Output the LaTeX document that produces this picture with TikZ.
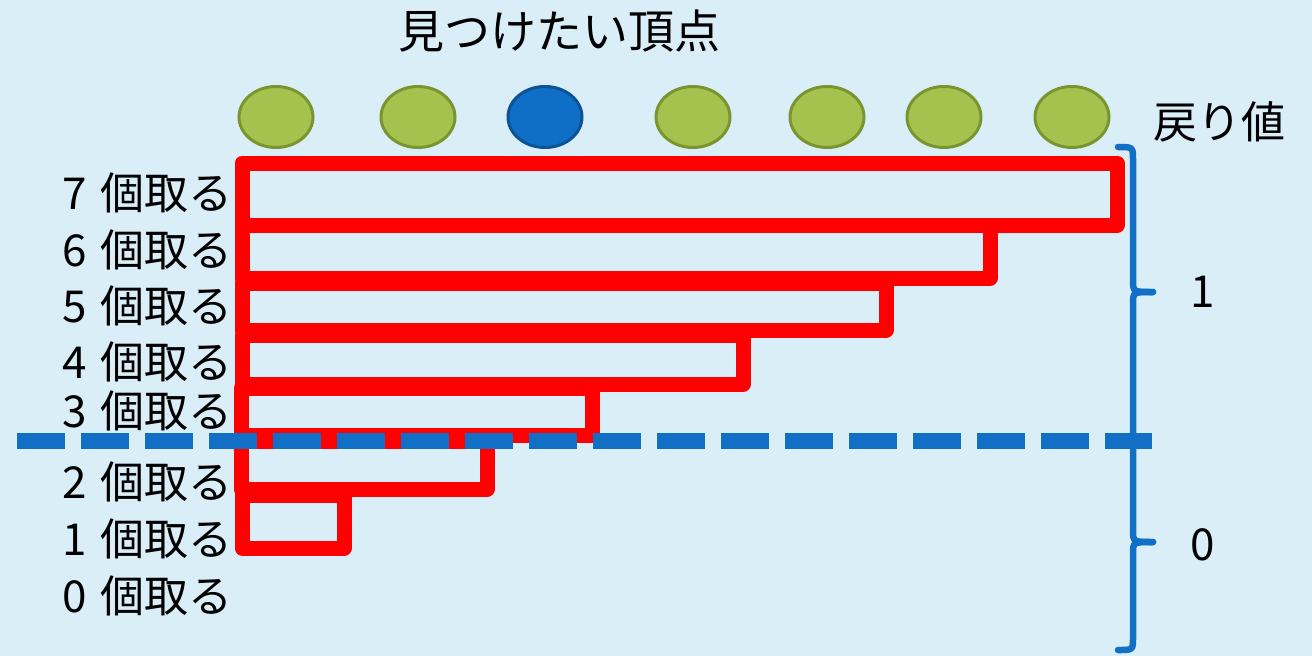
\documentclass[tikz,border=0pt]{standalone}
\usepackage{fontspec}
\usetikzlibrary{shapes.geometric}
\newfontfamily\jpfont{Noto Sans CJK JP}
\definecolor{bgblue}{HTML}{DAEEF8}
\definecolor{vgreen}{HTML}{A6C24E}
\definecolor{vgreenline}{HTML}{7A9530}
\definecolor{vblue}{HTML}{0F6FC6}
\definecolor{vblueline}{HTML}{0B5394}
\definecolor{barred}{HTML}{FF0000}
\definecolor{cutblue}{HTML}{116FC6}
\newcommand{\rowtext}[1]{#1\hspace{0.32em}個取る}
\begin{document}
\begin{tikzpicture}[x=1pt,y=-1pt,
  lbl/.style={font=\jpfont\fontsize{44}{50}\selectfont, inner sep=0pt, text=black},
  titlelbl/.style={font=\jpfont\fontsize{46}{52}\selectfont, inner sep=0pt, text=black},
  rowlbl/.style={lbl, anchor=east},
  vert/.style={ellipse, minimum width=74pt, minimum height=61pt, line width=3pt, inner sep=0pt},
  gvert/.style={vert, draw=vgreenline, fill=vgreen},
  bvert/.style={vert, draw=vblueline, fill=vblue},
  bar/.style={draw=barred, line width=15pt, line join=round},
  cut/.style={draw=cutblue, line width=16pt, dash pattern=on 48pt off 16pt},
  brace/.style={draw=cutblue, line width=6.5pt, line cap=round, line join=round}
]
\fill[bgblue] (0,0) rectangle (1312,656);
\useasboundingbox (0,0) rectangle (1312,656);

% title
\node[titlelbl] (title) at (559,31) {見つけたい頂点};

% vertices
\node[gvert] (v1) at (276,117) {};
\node[gvert] (v2) at (418,117) {};
\node[bvert] (v3) at (545,117) {};
\node[gvert] (v4) at (693,117) {};
\node[gvert] (v5) at (827,117) {};
\node[gvert] (v6) at (944,117) {};
\node[gvert] (v7) at (1072,117) {};

% return value header
\node[lbl] (ret) at (1219,122) {戻り値};

% row labels
\node[rowlbl] (l7) at (233,193) {\rowtext{7}};
\node[rowlbl] (l6) at (233,250) {\rowtext{6}};
\node[rowlbl] (l5) at (233,306) {\rowtext{5}};
\node[rowlbl] (l4) at (233,362) {\rowtext{4}};
\node[rowlbl] (l3) at (233,411) {\rowtext{3}};
\node[rowlbl] (l2) at (233,482) {\rowtext{2}};
\node[rowlbl] (l1) at (233,539) {\rowtext{1}};
\node[rowlbl] (l0) at (233,596) {\rowtext{0}};

% red bars
\draw[bar] (242,163) rectangle (1117,225);
\draw[bar] (242,225) rectangle (990,278);
\draw[bar] (242,283) rectangle (886,330);
\draw[bar] (242,335) rectangle (743,384);
\draw[bar] (241,388) rectangle (592,435);
\draw[bar] (241,441) rectangle (487,489);
\draw[bar] (242,495) rectangle (344,548);

% braces
\draw[brace] (1118,147) .. controls (1133,147) .. (1133,160) -- (1133,280)
  .. controls (1133,292) .. (1153,292);
\draw[brace] (1153,292) .. controls (1133,292) .. (1133,304) -- (1133,438);
\draw[brace] (1133,442) -- (1133,530) .. controls (1133,542) .. (1153,542);
\draw[brace] (1153,542) .. controls (1133,542) .. (1133,554) -- (1133,638)
  .. controls (1133,650) .. (1118,650);

% return values
\node[lbl] (one) at (1203,292) {1};
\node[lbl] (zero) at (1203,545) {0};

% dashed cut line
\coordinate (cutL) at (17,441);
\coordinate (cutR) at (1152,441);
\draw[cut] (cutL) -- (cutR);
\end{tikzpicture}
\end{document}
